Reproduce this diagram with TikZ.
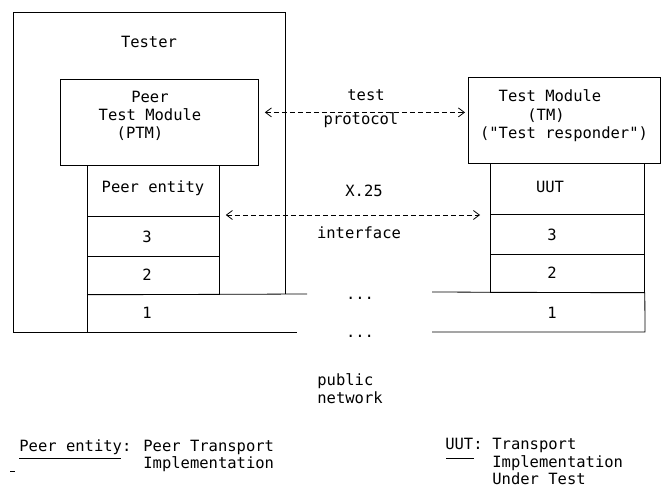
\documentclass[tikz,border=0pt]{standalone}
\usepackage{fontspec}
\newfontfamily\monofam{DejaVu Sans Mono}
\usetikzlibrary{arrows.meta}
\begin{document}
\begin{tikzpicture}[x=1pt,y=-1pt,
  line width=0.8pt,
  box/.style={draw, line width=0.8pt, inner sep=0pt, anchor=north west},
  lbl/.style={inner sep=0pt, font=\monofam\fontsize{15.5}{18}\selectfont, anchor=base},
  lblw/.style={lbl, anchor=base west},
  lble/.style={lbl, anchor=base east},
  link/.style={dash pattern=on 5pt off 3pt, line width=0.8pt,
    {Straight Barb[length=6pt,width=9pt]}-{Straight Barb[length=6pt,width=9pt]}}
]
\useasboundingbox (0,0) rectangle (661,490);

% ---- Tester side ----
\draw (285,294) -- (285,12) -- (13,12) -- (13,332) -- (297,332);
\node[box, minimum width=198pt, minimum height=86pt] (ptm) at (60,79) {};
\node[box, minimum width=132pt, minimum height=51pt] (pe) at (87,165) {};
\node[box, minimum width=132pt, minimum height=40pt] (l3) at (87,216) {};
\node[box, minimum width=132pt, minimum height=38pt] (l2) at (87,256) {};
\draw (l2.south west) -- (87,332);
\draw (l2.south west) -- (307,294);

\node[lbl] (tester) at (149,47) {Tester};
\node[lbl] (ptm1) at (150,102) {Peer};
\node[lbl] (ptm2) at (150,120) {Test Module};
\node[lbl] (ptm3) at (140,138) {(PTM)};
\node[lbl] (pet) at (153,192) {Peer entity};
\node[lbl] (l3t) at (147,242) {3};
\node[lbl] (l2t) at (147,280) {2};
\node[lbl] (l1t) at (147,318) {1};

% ---- System under test side ----
\node[box, minimum width=192pt, minimum height=86pt] (tm) at (468,77) {};
\node[box, minimum width=154pt, minimum height=51pt] (uut) at (490,163) {};
\node[box, minimum width=154pt, minimum height=40pt] (r3) at (490,214) {};
\node[box, minimum width=154pt, minimum height=38pt] (r2) at (490,254) {};
\draw (432,292) -- (r2.south east) -- (645,332) -- (432,332);

\node[lbl] (tm1) at (550,101) {Test Module};
\node[lbl] (tm2) at (546,120) {(TM)};
\node[lbl] (tm3) at (564,138) {("Test responder")};
\node[lbl] (uutt) at (550,192) {UUT};
\node[lbl] (r3t) at (552,240) {3};
\node[lbl] (r2t) at (552,278) {2};
\node[lbl] (r1t) at (552,318) {1};

% ---- connectors ----
\draw[link] ([xshift=6pt,yshift=10pt]ptm.east) -- ([xshift=-3pt,yshift=8pt]tm.west);
\draw[link] ([xshift=6pt,yshift=1pt]l3.north east) -- ([xshift=-10pt,yshift=-1pt]r3.north west);

\node[lbl] (test) at (366,100) {test};
\node[lbl] (protocol) at (361,124) {protocol};
\node[lbl] (x25) at (364,196) {X.25};
\node[lbl] (iface) at (359,238) {interface};
\node[lbl] (dots1) at (360,299) {...};
\node[lbl] (dots2) at (360,337) {...};
\node[lblw] (pub) at (317,385) {public};
\node[lblw] (net) at (317,403) {network};

% ---- legend ----
\node[lblw] (peleg) at (19,451) {Peer entity:};
\draw (19,458) -- (121,458);
\draw (10,471) -- (15,471);
\node[lblw] (peleg1) at (143,451) {Peer Transport};
\node[lblw] (peleg2) at (143,468) {Implementation};
\node[lble] (uutleg) at (483,449) {UUT:};
\draw (446,458) -- (474,458);
\node[lblw] (uutleg1) at (492,449) {Transport};
\node[lblw] (uutleg2) at (492,467) {Implementation};
\node[lblw] (uutleg3) at (492,484) {Under Test};
\end{tikzpicture}
\end{document}
